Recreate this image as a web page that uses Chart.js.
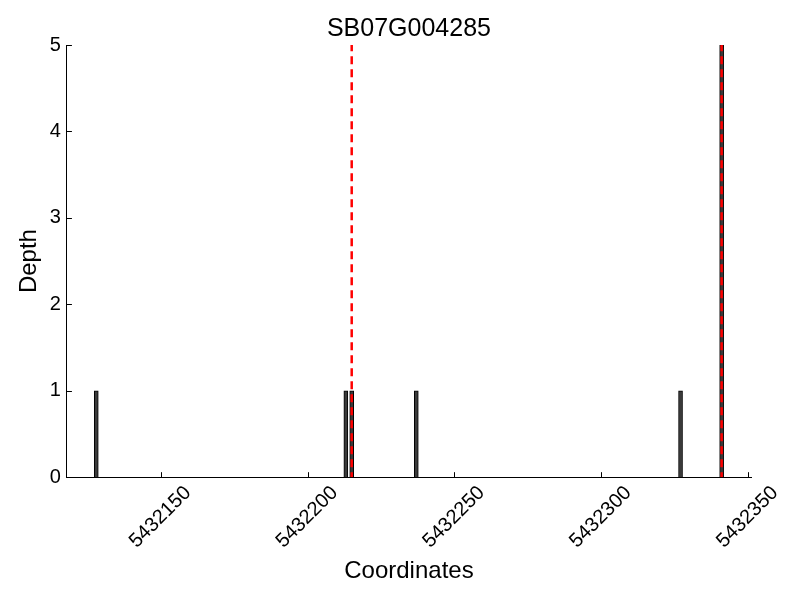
<!DOCTYPE html>
<html>
<head>
<meta charset="utf-8">
<script src="https://cdn.jsdelivr.net/npm/chart.js@4/dist/chart.umd.min.js"></script>
<style>
  html, body { margin: 0; padding: 0; background: #fff; }
  #wrap { width: 800px; height: 600px; }
</style>
</head>
<body>
<div id="wrap"><canvas id="visual" width="800" height="600"></canvas></div>
<script>
const chartTitle = 'SB07G004285';
const positions = [5432128, 5432213, 5432215, 5432237, 5432327, 5432341];
const depths = [1, 1, 1, 1, 1, 5];
const markers = [5432215, 5432341];
const xTicks = [5432150, 5432200, 5432250, 5432300, 5432350];
const yTicks = [0, 1, 2, 3, 4, 5];
const xRange = [5432118, 5432351];
const yRange = [0, 5];

const font = 'Liberation Sans, Arial, Helvetica, sans-serif';

const bars = positions.map((x, i) => ({x, y: depths[i]}));
const markerSets = markers.map((m) => ({
  type: 'line',
  data: [{x: m, y: yRange[0]}, {x: m, y: yRange[1]}],
  borderColor: '#ff0000',
  borderWidth: 2.5,
  borderDash: [8, 5],
  borderDashOffset: 3,
  pointRadius: 0,
  fill: false,
  order: 0,
}));

// inward tick marks, like the original
const innerTicks = {
  id: 'innerTicks',
  afterDraw(chart) {
    const {ctx, chartArea, scales} = chart;
    ctx.save();
    ctx.strokeStyle = '#000';
    ctx.lineWidth = 1;
    ctx.beginPath();
    xTicks.forEach((v) => {
      const px = Math.round(scales.x.getPixelForValue(v)) + 0.5;
      ctx.moveTo(px, chartArea.bottom);
      ctx.lineTo(px, chartArea.bottom - 5);
    });
    yTicks.forEach((v) => {
      const py = Math.round(scales.y.getPixelForValue(v)) + 0.5;
      ctx.moveTo(chartArea.left, py);
      ctx.lineTo(chartArea.left + 5, py);
    });
    ctx.stroke();
    ctx.restore();
  },
};

const chart = new Chart('visual', {
  type: 'bar',
  data: {
    datasets: [
      {
        type: 'bar',
        data: bars,
        backgroundColor: '#3a3a3a',
        borderColor: '#000',
        borderWidth: 1,
        barThickness: 4,
        order: 1,
      },
      ...markerSets,
    ],
  },
  options: {
    responsive: false,
    animation: false,
    layout: {padding: {left: 15, right: 49, top: 0, bottom: 14}},
    plugins: {
      legend: {display: false},
      tooltip: {enabled: false},
      title: {
        display: true,
        fullSize: false,
        text: chartTitle,
        color: '#000',
        font: {family: font, size: 25, weight: 'normal'},
        padding: {top: 14, bottom: 1},
      },
    },
    scales: {
      x: {
        type: 'linear',
        offset: false,
        min: xRange[0],
        max: xRange[1],
        afterBuildTicks: (scale) => {
          scale.ticks = xTicks.map((v) => ({value: v}));
        },
        grid: {display: false, drawTicks: false},
        border: {display: true, color: '#000', width: 1},
        ticks: {
          color: '#000',
          font: {family: font, size: 20},
          maxRotation: 45,
          minRotation: 45,
          padding: 4,
          labelOffset: 27,
          callback: (v) => String(v),
        },
        title: {
          display: true,
          text: 'Coordinates',
          color: '#000',
          font: {family: font, size: 24},
          padding: {top: 0, bottom: 0},
        },
      },
      y: {
        type: 'linear',
        min: yRange[0],
        max: yRange[1],
        afterBuildTicks: (scale) => {
          scale.ticks = yTicks.map((v) => ({value: v}));
        },
        grid: {display: false, drawTicks: false},
        border: {display: true, color: '#000', width: 1},
        ticks: {
          color: '#000',
          font: {family: font, size: 20},
          padding: 6,
        },
        title: {
          display: true,
          text: 'Depth',
          color: '#000',
          font: {family: font, size: 24},
          padding: {top: 0, bottom: 0},
        },
      },
    },
  },
  plugins: [innerTicks],
});
</script>
</body>
</html>
